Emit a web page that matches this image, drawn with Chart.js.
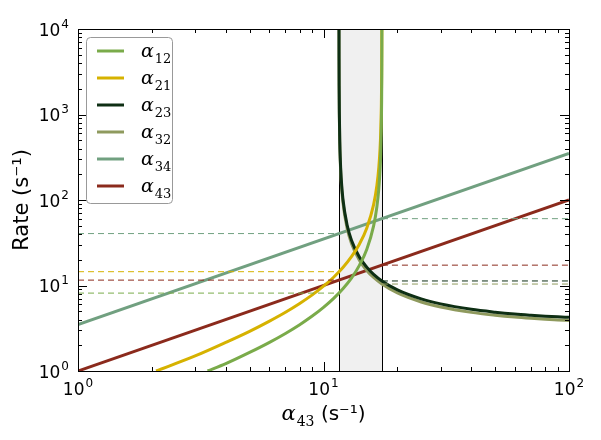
<!DOCTYPE html>
<html>
<head>
<meta charset="utf-8">
<script src="https://cdn.jsdelivr.net/npm/chart.js@4.4.1/dist/chart.umd.min.js"></script>
<style>
  html, body { margin: 0; padding: 0; background: #fff; }
</style>
</head>
<body>
<canvas id="mychart" width="601" height="440"></canvas>
<script>
// series names (subscripts of alpha)
var names = ['12', '21', '23', '32', '34', '43'];
var colors = ['#7aab4a', '#d6b200', '#0e2f14', '#8f9a5e', '#71a080', '#8b2a1c'];

// values
var x12 = [3.37, 4, 5, 6, 7, 8, 9, 10, 11, 12, 13, 14, 15, 16, 16.5, 16.8, 17.0, 17.1, 17.2, 17.25, 17.28, 17.29, 17.295];
var a12 = [1.0, 1.22, 1.65, 2.15, 2.75, 3.48, 4.39, 5.55, 7.07, 9.17, 12.2, 17.2, 26.4, 49.8, 83.5, 136, 230, 346, 697, 1398, 3500, 7000, 14000];

var x21 = [2.08, 3, 4, 5, 6, 7, 8, 9, 10, 11, 12, 13, 14, 15, 16, 16.5, 16.8, 17.0, 17.1, 17.2, 17.25, 17.28, 17.29];
var a21 = [1.0, 1.50, 2.16, 2.91, 3.81, 4.87, 6.17, 7.77, 9.82, 12.5, 16.2, 21.7, 30.4, 46.8, 88.2, 148, 241, 406, 613, 1233, 2474, 6195, 12400];

var xDown = [11.562, 11.565, 11.57, 11.58, 11.6, 11.65, 11.7, 11.8, 12, 12.5, 13, 14, 15, 16, 17.3, 20, 25, 30, 40, 50, 60, 70, 80, 90, 100];
var a23 = [21700, 8674, 4339, 2171, 1088, 485, 313, 184, 102, 49.9, 33.9, 21.5, 16.4, 13.5, 11.3, 8.89, 6.98, 6.10, 5.27, 4.88, 4.64, 4.49, 4.38, 4.30, 4.24];
var a32 = [19940, 7980, 3992, 1998, 1000, 447, 288, 170, 94.1, 45.9, 31.1, 19.8, 15.0, 12.4, 10.4, 8.18, 6.42, 5.61, 4.85, 4.49, 4.27, 4.13, 4.03, 3.96, 3.90];

var x34 = [1, 100];
var a34 = [3.5, 350];
var x43 = [1, 100];
var a43 = [1, 100];

// shaded band edges
var band = [11.56, 17.3];

// dashed reference levels: [series index, x from, x to, level]
var dashLeft = [[4, 1, 11.56, 40.5], [1, 1, 11.56, 14.5], [5, 1, 11.56, 11.56], [0, 1, 11.56, 8.15]];
var dashRight = [[4, 17.3, 100, 60.5], [5, 17.3, 100, 17.3], [2, 17.3, 100, 11.3], [3, 17.3, 100, 10.4]];

var xRange = [1, 100];
var yRange = [1, 10000];

function zip(xs, ys) {
    return xs.map(function (x, i) { return {x: x, y: ys[i]}; });
}

function decadeExp(v) {
    var e = Math.log10(v);
    if (Math.abs(e - Math.round(e)) > 1e-6) return null;
    return String(Math.round(e));
}

var lines = [[x12, a12], [x21, a21], [xDown, a23], [xDown, a32], [x34, a34], [x43, a43]];
var datasets = [];

dashLeft.concat(dashRight).forEach(function (d) {
    datasets.push({
        label: '',
        data: [{x: d[1], y: d[3]}, {x: d[2], y: d[3]}],
        borderColor: colors[d[0]],
        borderWidth: 1,
        borderDash: [6, 4],
        showLine: true,
        pointRadius: 0,
        isDash: true
    });
});

lines.forEach(function (l, i) {
    datasets.push({
        label: 'α' + names[i],
        data: zip(l[0], l[1]),
        borderColor: colors[i],
        borderWidth: 3,
        showLine: true,
        pointRadius: 0,
        cubicInterpolationMode: 'monotone'
    });
});

function drawTicks(ctx, scale, area, horizontal) {
    var lo = Math.floor(Math.log10(scale.min));
    var hi = Math.ceil(Math.log10(scale.max));
    for (var e = lo; e <= hi; e++) {
        for (var m = 1; m <= 9; m++) {
            var v = m * Math.pow(10, e);
            if (v < scale.min * 0.999 || v > scale.max * 1.001) continue;
            var len = m === 1 ? 9 : 4;
            var p = Math.round(scale.getPixelForValue(v)) + 0.5;
            ctx.beginPath();
            if (horizontal) {
                ctx.moveTo(p, area.bottom); ctx.lineTo(p, area.bottom - len);
                ctx.moveTo(p, area.top); ctx.lineTo(p, area.top + len);
            } else {
                ctx.moveTo(area.left, p); ctx.lineTo(area.left + len, p);
                ctx.moveTo(area.right, p); ctx.lineTo(area.right - len, p);
            }
            ctx.stroke();
        }
    }
}

// "10" with a raised exponent; align 'right' or 'center'
function drawPow(ctx, exp, x, base, align) {
    ctx.font = '17px "DejaVu Sans"';
    var w1 = ctx.measureText('10').width;
    ctx.font = '12px "DejaVu Sans"';
    var w2 = ctx.measureText(exp).width;
    var x0 = align === 'right' ? x - w1 - w2 - 1 : x - (w1 + w2 + 1) / 2;
    ctx.font = '17px "DejaVu Sans"';
    ctx.fillText('10', x0, base);
    ctx.font = '12px "DejaVu Sans"';
    ctx.fillText(exp, x0 + w1 + 1, base - 8);
}

function drawTickLabels(ctx, chart) {
    var a = chart.chartArea;
    ctx.fillStyle = '#000';
    ctx.textBaseline = 'alphabetic';
    ctx.textAlign = 'left';
    chart.scales.x.ticks.forEach(function (t) {
        var exp = decadeExp(t.value);
        if (exp === null) return;
        drawPow(ctx, exp, chart.scales.x.getPixelForValue(t.value), a.bottom + 24, 'center');
    });
    chart.scales.y.ticks.forEach(function (t) {
        var exp = decadeExp(t.value);
        if (exp === null) return;
        drawPow(ctx, exp, a.left - 9, chart.scales.y.getPixelForValue(t.value) + 6.5, 'right');
    });
}

function drawAlpha(ctx, x, y, sub, big, small, subDrop) {
    ctx.font = 'italic ' + big + 'px "DejaVu Serif"';
    ctx.fillText('α', x, y);
    var w = ctx.measureText('α').width;
    ctx.font = small + 'px "DejaVu Serif"';
    ctx.fillText(sub, x + w + 1, y + subDrop);
    return x + w + 1 + ctx.measureText(sub).width;
}

var framePlugin = {
    id: 'frame',
    beforeDatasetsDraw: function (chart) {
        var ctx = chart.ctx, a = chart.chartArea, xs = chart.scales.x;
        var x0 = Math.round(xs.getPixelForValue(band[0])) + 0.5;
        var x1 = Math.round(xs.getPixelForValue(band[1])) + 0.5;
        ctx.save();
        ctx.fillStyle = '#f0f0f0';
        ctx.fillRect(x0, a.top, x1 - x0, a.bottom - a.top);
        ctx.strokeStyle = '#000';
        ctx.lineWidth = 1;
        ctx.beginPath();
        ctx.moveTo(x0, a.top); ctx.lineTo(x0, a.bottom);
        ctx.moveTo(x1, a.top); ctx.lineTo(x1, a.bottom);
        ctx.stroke();
        ctx.restore();
    },
    afterDraw: function (chart) {
        var ctx = chart.ctx, a = chart.chartArea;
        ctx.save();
        ctx.strokeStyle = '#000';
        ctx.lineWidth = 1;
        drawTicks(ctx, chart.scales.x, a, true);
        drawTicks(ctx, chart.scales.y, a, false);
        ctx.strokeRect(Math.round(a.left) + 0.5, Math.round(a.top) + 0.5,
            Math.round(a.right - a.left), Math.round(a.bottom - a.top));
        drawTickLabels(ctx, chart);

        // legend
        var bx = a.left + 8.5, by = a.top + 8.5, bw = 86, bh = 166;
        ctx.beginPath();
        ctx.roundRect(bx, by, bw, bh, 4);
        ctx.fillStyle = '#fff';
        ctx.fill();
        ctx.strokeStyle = '#999';
        ctx.lineWidth = 1;
        ctx.stroke();
        var items = chart.data.datasets.filter(function (d) { return !d.isDash; });
        items.forEach(function (d, i) {
            var ry = a.top + 22 + i * 27;
            ctx.strokeStyle = d.borderColor;
            ctx.lineWidth = 3;
            ctx.beginPath();
            ctx.moveTo(a.left + 19, ry);
            ctx.lineTo(a.left + 46, ry);
            ctx.stroke();
            ctx.fillStyle = '#000';
            drawAlpha(ctx, a.left + 63, ry + 6, d.label.slice(1), 19, 13, 6);
        });

        // x axis title
        ctx.fillStyle = '#000';
        ctx.font = 'italic 21px "DejaVu Serif"';
        var w1 = ctx.measureText('α').width;
        ctx.font = '14px "DejaVu Serif"';
        var w2 = ctx.measureText('43').width;
        ctx.font = '20px "DejaVu Sans"';
        var w3 = ctx.measureText(' (s⁻¹)').width;
        var start = (a.left + a.right) / 2 - (w1 + w2 + w3 + 1) / 2;
        var end = drawAlpha(ctx, start, 420, '43', 21, 14, 6);
        ctx.font = '20px "DejaVu Sans"';
        ctx.fillText(' (s⁻¹)', end, 420);
        ctx.restore();
    }
};

var ctx = document.getElementById('mychart').getContext('2d');
var myChart = new Chart(ctx, {
    type: 'scatter',
    data: { datasets: datasets },
    options: {
        responsive: false,
        animation: false,
        devicePixelRatio: 1,
        layout: { padding: { left: 0, right: 32, top: 29, bottom: 0 } },
        plugins: { legend: { display: false }, tooltip: { enabled: false } },
        scales: {
            x: {
                type: 'logarithmic',
                min: xRange[0], max: xRange[1],
                grid: { display: false, drawTicks: false },
                border: { display: false },
                afterFit: function (s) { s.height = 69; },
                ticks: { display: false, autoSkip: false }
            },
            y: {
                type: 'logarithmic',
                min: yRange[0], max: yRange[1],
                grid: { display: false, drawTicks: false },
                border: { display: false },
                afterFit: function (s) { s.width = 78; },
                title: {
                    display: true, text: 'Rate (s⁻¹)', color: '#000',
                    font: { family: 'DejaVu Sans', size: 21 },
                    padding: { top: 10, bottom: 0 }
                },
                ticks: { display: false, autoSkip: false }
            }
        }
    },
    plugins: [framePlugin]
});
</script>
</body>
</html>
